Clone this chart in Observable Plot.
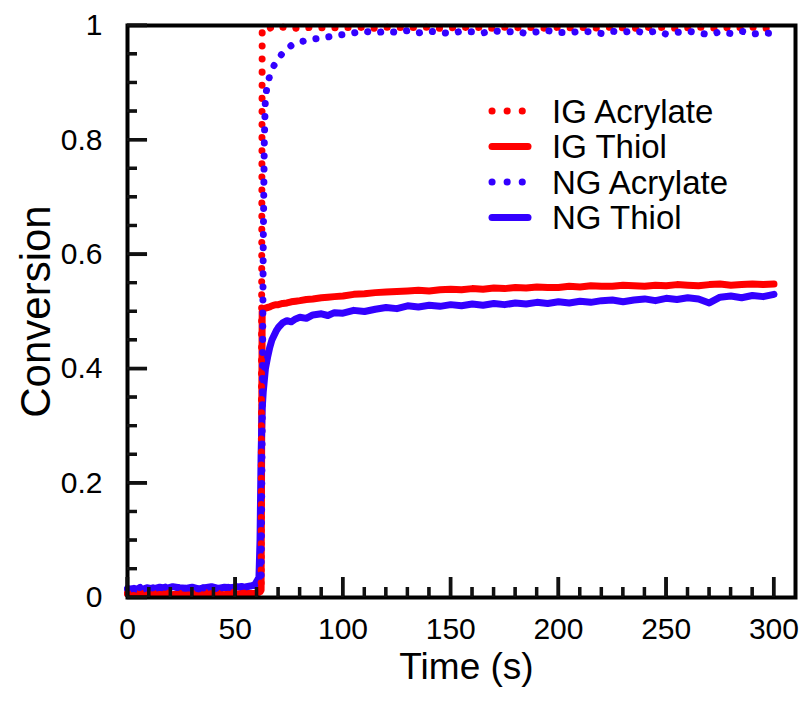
<!DOCTYPE html>
<html><head><meta charset="utf-8">
<script src="https://cdn.jsdelivr.net/npm/d3@7"></script>
<script src="https://cdn.jsdelivr.net/npm/@observablehq/plot@0.6"></script>
<style>
body{margin:0;background:#fff;}
#wrap{position:relative;width:806px;height:706px;}
#legend{position:absolute;left:0;top:0;pointer-events:none;}
</style>
</head><body><div id="wrap"></div>
<script>
const time = [0,3,6,9,12,15,18,21,24,27,30,33,36,39,42,45,48,51,54,57,
 59,60,61,61.5,62,62.5,63,63.5,64,65,66,67,68,69,70,
 72,74,76,78,80,83,86,90,93,96,
 100,105,110,115,120,125,130,135,140,145,
 150,155,160,165,170,175,180,185,190,195,
 200,205,210,215,220,225,230,235,240,245,
 250,255,260,265,270,275,280,285,290,295,
 300];

const igAcrylate = [0.008,0.006,0.009,0.007,0.008,0.006,0.009,0.007,0.008,0.006,0.008,0.007,0.009,0.006,0.008,0.007,0.009,0.006,0.008,0.007,
 0.008,0.007,0.009,0.010,0.013,0.990,0.996,0.997,0.996,0.997,0.995,0.997,0.996,0.997,0.996,
 0.997,0.996,0.997,0.995,0.997,0.996,0.997,0.996,0.997,0.996,
 0.997,0.996,0.997,0.995,0.997,0.996,0.997,0.996,0.997,0.995,
 0.996,0.997,0.996,0.997,0.995,0.997,0.996,0.997,0.996,0.995,
 0.997,0.996,0.997,0.995,0.996,0.997,0.996,0.995,0.997,0.996,
 0.997,0.995,0.996,0.997,0.996,0.995,0.997,0.996,0.997,0.995,
 0.996];

const igThiol = [0.006,0.005,0.007,0.006,0.005,0.007,0.006,0.005,0.007,0.006,0.005,0.007,0.006,0.008,0.006,0.005,0.007,0.006,0.008,0.007,
 0.007,0.008,0.009,0.010,0.013,0.500,0.503,0.505,0.506,0.507,0.508,0.510,0.511,0.512,0.512,
 0.514,0.515,0.517,0.518,0.519,0.521,0.522,0.524,0.525,0.526,
 0.527,0.530,0.531,0.533,0.534,0.535,0.536,0.537,0.536,0.538,
 0.539,0.538,0.540,0.539,0.541,0.540,0.542,0.541,0.543,0.542,
 0.542,0.544,0.543,0.545,0.544,0.544,0.546,0.545,0.544,0.546,
 0.545,0.547,0.546,0.545,0.547,0.548,0.546,0.547,0.548,0.547,
 0.548];

const ngAcrylate = [0.016,0.013,0.018,0.015,0.017,0.014,0.019,0.016,0.018,0.015,0.017,0.019,0.016,0.018,0.015,0.019,0.017,0.018,0.020,0.019,
 0.021,0.024,0.027,0.030,0.035,0.300,0.620,0.800,0.875,0.898,0.912,0.922,0.930,0.936,0.942,
 0.952,0.958,0.965,0.968,0.971,0.974,0.976,0.978,0.980,0.982,
 0.984,0.987,0.990,0.987,0.990,0.988,0.991,0.987,0.990,0.988,
 0.986,0.990,0.989,0.987,0.991,0.988,0.990,0.986,0.989,0.991,
 0.988,0.987,0.990,0.989,0.986,0.990,0.988,0.991,0.987,0.990,
 0.985,0.988,0.990,0.987,0.984,0.989,0.986,0.990,0.985,0.987,
 0.986];

const ngThiol = [0.014,0.016,0.013,0.017,0.015,0.018,0.016,0.019,0.017,0.016,0.018,0.015,0.017,0.019,0.016,0.018,0.017,0.019,0.018,0.020,
 0.022,0.028,0.035,0.100,0.250,0.330,0.360,0.380,0.400,0.420,0.437,0.450,0.458,0.466,0.472,
 0.480,0.484,0.482,0.487,0.490,0.488,0.494,0.496,0.493,0.498,
 0.497,0.502,0.500,0.504,0.507,0.505,0.510,0.508,0.511,0.509,
 0.512,0.510,0.513,0.511,0.514,0.512,0.515,0.513,0.516,0.514,
 0.517,0.515,0.518,0.516,0.519,0.520,0.517,0.520,0.522,0.519,
 0.523,0.521,0.524,0.522,0.515,0.525,0.527,0.524,0.528,0.526,
 0.530];

const seriesNames = ["IG Acrylate", "IG Thiol", "NG Acrylate", "NG Thiol"];
const seriesColors = ["#ff0000", "#ff0000", "#3300ff", "#3300ff"];
const seriesDotted = [true, false, true, false];

const xMajor = [0, 50, 100, 150, 200, 250, 300];
const xMinor = [10,20,30,40,60,70,80,90,110,120,130,140,160,170,180,190,210,220,230,240,260,270,280,290];
const yMajor = [0, 0.2, 0.4, 0.6, 0.8, 1];
const yMinor = [0.05,0.1,0.15,0.25,0.3,0.35,0.45,0.5,0.55,0.65,0.7,0.75,0.85,0.9,0.95];

const seriesValues = [igAcrylate, igThiol, ngAcrylate, ngThiol];
const rows = seriesValues.map(vals => time.map((t, i) => ({t, v: vals[i]})));

const W = 806, H = 706, mL = 127, mR = 11, mT = 25, mB = 109;
const font = "'Liberation Sans', Arial, Helvetica, sans-serif";
const dots = "0.1,13";
const majorLen = 20, minorLen = 10;
// same tick lengths in data units (frame is 668 x 572 px for 310 x 1 units)
const yMajLen = 0.035, yMinLen = 0.0175, xMajLen = 9.3, xMinLen = 4.65;
const noLabel = () => "";

function lineMark(k) {
  return Plot.line(rows[k], {
    x: "t", y: "v", stroke: seriesColors[k], strokeWidth: 7,
    strokeLinecap: "round", strokeLinejoin: "round",
    strokeDasharray: seriesDotted[k] ? dots : null
  });
}

const chart = Plot.plot({
  width: W, height: H,
  marginLeft: mL, marginRight: mR, marginTop: mT, marginBottom: mB,
  style: {fontFamily: font, background: "white"},
  x: {domain: [0, 310]},
  y: {domain: [0, 1]},
  marks: [
    lineMark(1), lineMark(3), lineMark(0), lineMark(2),
    Plot.ruleX(xMajor, {x: d => d, y1: 0, y2: yMajLen, stroke: "#111", strokeWidth: 3.5}),
    Plot.ruleX(xMinor, {x: d => d, y1: 0, y2: yMinLen, stroke: "#111", strokeWidth: 3}),
    Plot.ruleY(yMajor, {y: d => d, x1: 0, x2: xMajLen, stroke: "#111", strokeWidth: 3.5}),
    Plot.ruleY(yMinor, {y: d => d, x1: 0, x2: xMinLen, stroke: "#111", strokeWidth: 3}),
    Plot.frame({stroke: "black", strokeWidth: 4}),
    Plot.axisX({ticks: xMajor, tickSize: 0, tickPadding: 20, fontSize: 30, label: null, tickFormat: d => String(d), fill: "black"}),
    Plot.axisY({ticks: yMajor, tickSize: 0, tickPadding: 25, fontSize: 30, label: null, tickFormat: d => String(d), fill: "black"}),
    Plot.text(["Time (s)"], {text: d => d, frameAnchor: "bottom", dy: 70, dx: 5, fontSize: 37, lineAnchor: "middle", textAnchor: "middle", fill: "black"}),
    Plot.text(["Conversion"], {text: d => d, frameAnchor: "left", dx: -91, rotate: -90, fontSize: 42, lineAnchor: "middle", textAnchor: "middle", fill: "black"})
  ]
});
document.getElementById("wrap").appendChild(chart);

// overlay: inward ticks (placed through the chart's scales) and legend
const sx = chart.scale("x"), sy = chart.scale("y");
const ov = d3.select("#wrap").append("svg").attr("id", "legend").attr("width", W).attr("height", H);
const x0 = sx.apply(0), y0 = sy.apply(0);
let tp = "";
xMajor.forEach(v => { tp += `M${sx.apply(v)},${y0}v${-majorLen}`; });
xMinor.forEach(v => { tp += `M${sx.apply(v)},${y0}v${-minorLen}`; });
yMajor.forEach(v => { tp += `M${x0},${sy.apply(v)}h${majorLen}`; });
yMinor.forEach(v => { tp += `M${x0},${sy.apply(v)}h${minorLen}`; });
ov.append("path").attr("d", tp).attr("fill", "none").attr("stroke", "#111").attr("stroke-width", 3);

const lx0 = 492, lx1 = 528, tx = 552, ly0 = 111, lstep = 35.5;
seriesNames.forEach((name, k) => {
  const y = ly0 + k * lstep;
  ov.append("line").attr("x1", lx0).attr("x2", seriesDotted[k] ? lx1 + 1 : lx1).attr("y1", y).attr("y2", y)
    .attr("stroke", seriesColors[k]).attr("stroke-width", 7).attr("stroke-linecap", "round")
    .attr("stroke-dasharray", seriesDotted[k] ? "0.1,15" : null);
  ov.append("text").attr("x", tx).attr("y", y).attr("dy", "0.36em")
    .attr("font-family", font).attr("font-size", 33).attr("fill", "black").text(name);
});
</script>
</body></html>
